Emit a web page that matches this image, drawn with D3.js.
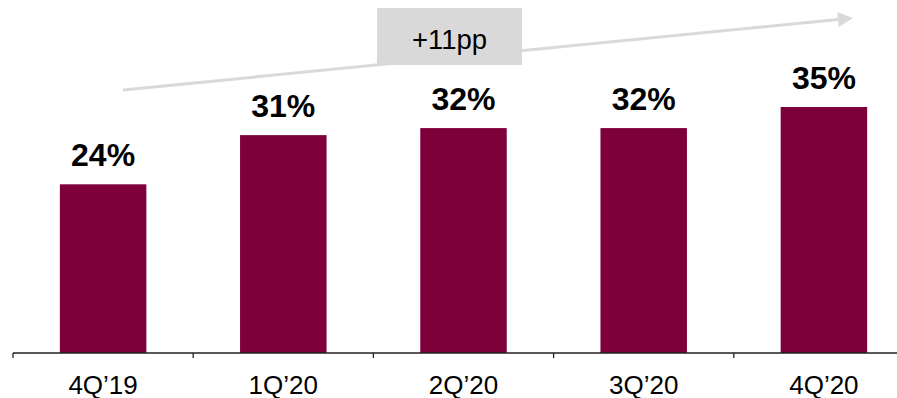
<!DOCTYPE html>
<html>
<head>
<meta charset="utf-8">
<script src="https://cdn.jsdelivr.net/npm/d3@7"></script>
<style>
  html, body { margin: 0; padding: 0; background: #fff; }
  svg { display: block; }
</style>
</head>
<body>
<svg id="chart" width="897" height="398"></svg>
<script>
// Quarterly share, in percent
const quarters = ["4Q\u201919", "1Q\u201920", "2Q\u201920", "3Q\u201920", "4Q\u201920"];
const shares = [24, 31, 32, 32, 35];
const changeLabel = "+11pp";

const svg = d3.select("#chart");
const baseY = 353;

const x = d3.scaleBand()
  .domain(quarters)
  .range([13, 914])
  .paddingInner(0.52)
  .paddingOuter(0.26);

const y = d3.scaleLinear()
  .domain([0, 35])
  .range([baseY, 107]);

// Trend arrow across the top
const defs = svg.append("defs");
defs.append("marker")
  .attr("id", "head")
  .attr("viewBox", "0 0 10 10")
  .attr("refX", 0).attr("refY", 5)
  .attr("markerWidth", 17).attr("markerHeight", 15)
  .attr("markerUnits", "userSpaceOnUse")
  .attr("orient", "auto")
  .append("path")
  .attr("d", "M0,0 L10,5 L0,10 Z")
  .attr("fill", "#d9d9d9");

svg.append("line")
  .attr("x1", 123).attr("y1", 90)
  .attr("x2", 838).attr("y2", 19.5)
  .attr("stroke", "#d9d9d9")
  .attr("stroke-width", 3)
  .attr("marker-end", "url(#head)");

// Change callout box
svg.append("rect")
  .attr("x", 377).attr("y", 8)
  .attr("width", 145).attr("height", 57)
  .attr("fill", "#d9d9d9");
svg.append("text")
  .attr("x", 449.5).attr("y", 48.5)
  .attr("text-anchor", "middle")
  .attr("font-family", "Liberation Sans, Arial, sans-serif")
  .attr("font-size", 27.5)
  .attr("fill", "#000")
  .text(changeLabel);

// Bars
svg.selectAll("rect.bar")
  .data(quarters)
  .join("rect")
  .attr("class", "bar")
  .attr("x", d => x(d))
  .attr("width", x.bandwidth())
  .attr("y", (d, i) => y(shares[i]))
  .attr("height", (d, i) => baseY - y(shares[i]))
  .attr("fill", "#7d003a");

// Value labels
svg.selectAll("text.val")
  .data(quarters)
  .join("text")
  .attr("class", "val")
  .attr("x", d => x(d) + x.bandwidth() / 2)
  .attr("y", (d, i) => y(shares[i]) - 18)
  .attr("text-anchor", "middle")
  .attr("font-family", "Liberation Sans, Arial, sans-serif")
  .attr("font-weight", "bold")
  .attr("font-size", 32)
  .attr("fill", "#000")
  .text((d, i) => shares[i] + "%");

// Category axis
const axis = svg.append("g")
  .attr("transform", `translate(0,${baseY})`)
  .call(d3.axisBottom(x).tickSize(0).tickPadding(0));
axis.select(".domain").remove();
axis.selectAll("text").remove();

axis.append("line")
  .attr("x1", 13).attr("x2", 897)
  .attr("y1", 0).attr("y2", 0)
  .attr("stroke", "#222").attr("stroke-width", 1.3);

const step = x.step();
axis.selectAll("line.sep")
  .data(d3.range(quarters.length))
  .join("line")
  .attr("class", "sep")
  .attr("x1", i => 13 + i * step).attr("x2", i => 13 + i * step)
  .attr("y1", 0).attr("y2", 5)
  .attr("stroke", "#222").attr("stroke-width", 1.3);

axis.selectAll("text.cat")
  .data(quarters)
  .join("text")
  .attr("class", "cat")
  .attr("x", d => x(d) + x.bandwidth() / 2)
  .attr("y", 40.5)
  .attr("text-anchor", "middle")
  .attr("font-family", "Liberation Sans, Arial, sans-serif")
  .attr("font-size", 26)
  .attr("fill", "#000")
  .text(d => d);
</script>
</body>
</html>
